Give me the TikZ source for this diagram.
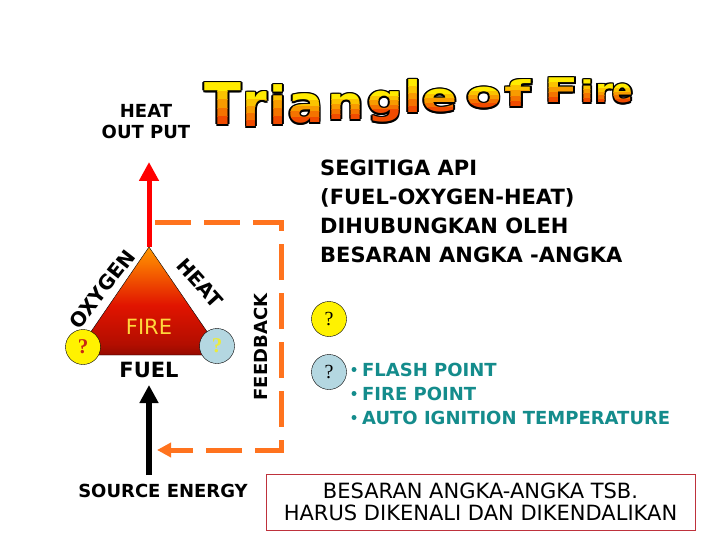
\documentclass[tikz,border=0pt]{standalone}
\usepackage{fontspec}
\setmainfont{DejaVu Sans}
\newfontfamily\qfont{Liberation Serif}
\usetikzlibrary{arrows.meta}

\definecolor{firetop}{RGB}{255,235,0}
\definecolor{firebot}{RGB}{240,75,0}
\definecolor{triatop}{RGB}{255,205,0}
\definecolor{triaorg}{RGB}{250,120,0}
\definecolor{triared}{RGB}{225,20,0}
\definecolor{triabot}{RGB}{70,0,0}
\definecolor{firetxt}{RGB}{255,215,60}
\definecolor{fbcol}{RGB}{255,115,30}
\definecolor{tealtxt}{RGB}{20,140,140}
\definecolor{boxred}{RGB}{190,50,60}
\definecolor{qblue}{RGB}{180,215,225}
\definecolor{qred}{RGB}{200,40,20}
\definecolor{qyel}{RGB}{235,235,60}

\pgfdeclareverticalshading{firetri}{100bp}{color(0bp)=(triabot); color(12bp)=(triabot);
  color(30bp)=(triared!70!triabot); color(48bp)=(triared); color(68bp)=(triaorg); color(88bp)=(triatop); color(100bp)=(triatop)}

\begin{document}
\begin{tikzpicture}[x=1pt, y=-1pt,
  lbl/.style={font=\bfseries\fontsize{18}{21}\selectfont, inner sep=0pt},
  big/.style={font=\bfseries\fontsize{21}{29}\selectfont, inner sep=0pt},
  ttl/.style={font=\bfseries\fontsize{50}{50}\selectfont, inner sep=0pt, anchor=base},
  qdot/.style={circle, draw, minimum size=35pt, inner sep=0pt, font=\qfont\fontsize{20}{20}\selectfont},
  feedback/.style={draw=fbcol, line width=5pt, dash pattern=on 36pt off 13pt, -{Triangle[length=14pt,width=14pt]}}
]

\useasboundingbox (0,0) rectangle (720,540);
\fill[white] (0,0) rectangle (720,540);

% title
\foreach \ch/\x/\b/\t/\s/\w in {T/223/125/83/1.15/1.08, r/255/127/93/1.25/1, i/278/125/85/1.05/1,
    a/306/123/95/1.03/1.05, n/346/120/95/0.92/1.03, g/385/114/92/0.8/1, l/413/113/80/0.87/1,
    e/440/112/90/0.8/1.03, o/484/108/88/0.73/1.03, f/518/107/80/0.71/1.2,
    F/562/103/78/0.68/1, i/587/103/80/0.6/0.8, r/604/103/85/0.66/0.73, e/623/103/85/0.66/0.6}{
  \foreach \dx/\dy in {-1.6/0, 1.6/0, 0/-1.6, 0/1.6, -1.1/-1.1, 1.1/1.1, -1.1/1.1, 1.1/-1.1}
    \node[ttl, yscale=\s, xscale=\w, text=black] at (\x+\dx,\b+\dy) {\ch};
  \foreach \k in {0,...,4}{
    \pgfmathsetmacro\ya{\k==0 ? \t-6 : \t+(\b-\t)*\k/5}
    \pgfmathsetmacro\yb{\k==4 ? \b+16 : \t+(\b-\t)*(\k+1)/5}
    \pgfmathtruncatemacro\pc{100-25*\k}
    \begin{scope}
      \clip (\x-25,\ya) rectangle (\x+25,\yb);
      \node[ttl, yscale=\s, xscale=\w, text=firetop!\pc!firebot] (ttl-\ch) at (\x,\b) {\ch};
    \end{scope}
  }
}

% heat output
\node[lbl, align=center] (hop) at (146,122) {HEAT\\OUT PUT};
\coordinate (hout) at (149,162);

% triangle
\coordinate (apex) at (149,247);
\coordinate (lv) at (75,355);
\coordinate (rv) at (223,355);
\draw[red, line width=5pt, -{Triangle[length=19pt,width=19pt]}] (apex) -- (hout);
\draw[shading=firetri] (apex) -- (lv) -- (rv) -- cycle;

\node[inner sep=0pt, text=firetxt, font=\fontsize{21}{21}\selectfont] (fire) at (149,327) {FIRE};
\node[lbl, font=\bfseries\fontsize{20}{20}\selectfont, rotate=52] (oxy) at (102,289) {OXYGEN};
\node[lbl, font=\bfseries\fontsize{20}{20}\selectfont, rotate=-48] (heat) at (200,283) {HEAT};
\node[qdot, fill=yellow, text=qred, font=\qfont\bfseries\fontsize{21}{21}\selectfont] (qo) at (83,347) {?};
\node[qdot, fill=qblue, text=qyel, font=\qfont\bfseries\fontsize{21}{21}\selectfont] (qh) at (217,346) {?};
\node[inner sep=0pt, font=\bfseries\fontsize{21}{21}\selectfont] (fuel) at (149,370) {FUEL};

% source energy
\coordinate (src) at (149,475);
\coordinate (srctip) at (149,385);
\draw[black, line width=6pt, -{Triangle[length=18pt,width=18pt]}] (src) -- (srctip);
\node[lbl] (srce) at (163,491) {SOURCE ENERGY};

% feedback loop
\coordinate (fb1) at (155,223);
\coordinate (fb2) at (281,450);
\coordinate (fb3) at (157,450);
\draw[feedback] (fb1) -| (fb2) -- (fb3);
\node[lbl, rotate=90] (fbl) at (261,347) {FEEDBACK};

% right side
\node[big, anchor=north west, align=left] (seg) at (320,160)
  {SEGITIGA API\\(FUEL-OXYGEN-HEAT)\\DIHUBUNGKAN OLEH\\BESARAN ANGKA -ANGKA};
\node[qdot, fill=yellow] (q1) at (329,319) {?};
\node[qdot, fill=qblue] (q2) at (329,372) {?};
\foreach \txt/\y [count=\i] in {FLASH POINT/376, FIRE POINT/400, AUTO IGNITION TEMPERATURE/424}{
  \node[circle, fill=tealtxt, inner sep=0pt, minimum size=5pt] (dot\i) at (354,\y-6.5) {};
  \node[lbl, text=tealtxt, anchor=base west] (pt\i) at (362,\y) {\txt};
}

% note box
\node[draw=boxred, line width=1pt, minimum width=429pt, minimum height=56pt, align=center,
  font=\fontsize{21}{22}\selectfont] (note) at (480.5,502)
  {BESARAN ANGKA-ANGKA TSB.\\HARUS DIKENALI DAN DIKENDALIKAN};

\end{tikzpicture}
\end{document}
